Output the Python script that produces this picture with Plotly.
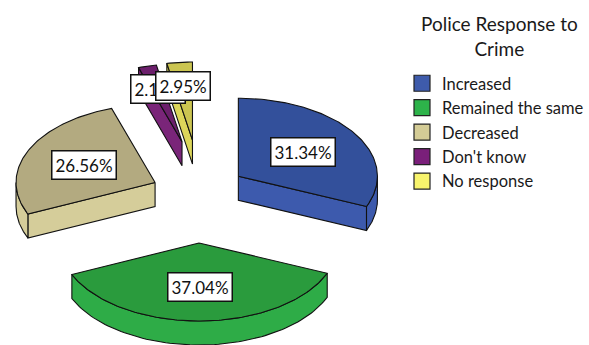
import numpy as np
import plotly.graph_objects as go

# --- data -------------------------------------------------------------
categories = ["Increased", "Remained the same", "Decreased", "Don't know", "No response"]
percents = [31.34, 37.04, 26.56, 2.11, 2.95]
label_texts = ["31.34%", "37.04%", "26.56%", "2.11%", "2.95%"]
legend_title = "Police Response to<br>Crime"

# --- styling ----------------------------------------------------------
top_colors = ["#33509b", "#2a9b3d", "#b3aa80", "#6c1f6c", "#cbc551"]
side_colors = ["#3d5aad", "#2eac47", "#d5cd9a", "#7a2579", "#dcd65a"]
key_colors = ["#3e5bab", "#2db34a", "#d4cc96", "#7a1f7a", "#f8f46c"]
FONT = "Lato"

# tilted pie geometry, in pixel units of the plotting area
CX, CY = 200, 200          # pie centre
RX, RY = 140, 78           # ellipse radii of the tilted disc
DEPTH = 24                 # thickness of the disc
EX, EY = 48, 43            # explode distance (horizontal / vertical)
SMALL_PULL = 1.4           # extra explode for thin slices
LABEL_R = 0.56             # label radius (fraction of RX/RY) for big slices
LABEL_R_SMALL = 0.70       # label radius for thin slices

fig = go.Figure()


def face(xs, ys, fill):
    fig.add_trace(go.Scatter(
        x=xs, y=ys, mode="lines", fill="toself", fillcolor=fill,
        line=dict(color="#111111", width=1.1), hoverinfo="skip",
        showlegend=False))


total = float(sum(percents))
bounds = np.concatenate([[0.0], np.cumsum(percents) / total * 2 * np.pi])

slices = []
for i, pct in enumerate(percents):
    a0, a1 = bounds[i], bounds[i + 1]
    mid = 0.5 * (a0 + a1)
    small = pct < 5
    pull = SMALL_PULL if small else 1.0
    ox = CX + pull * EX * np.sin(mid)
    oy = CY - pull * EY * np.cos(mid)
    slices.append(dict(i=i, a0=a0, a1=a1, mid=mid, ox=ox, oy=oy, small=small))

# back-to-front drawing order
for s in sorted(slices, key=lambda d: d["oy"]):
    i, a0, a1, ox, oy = s["i"], s["a0"], s["a1"], s["ox"], s["oy"]

    def px(t, r=1.0):
        return ox + RX * r * np.sin(t)

    def py(t, r=1.0):
        return oy - RY * r * np.cos(t)

    # radial cut faces that face the viewer
    for ang, visible in ((a0, np.sin(a0) < -1e-6), (a1, np.sin(a1) > 1e-6)):
        if visible:
            ex, ey = px(ang), py(ang)
            face([ox, ex, ex, ox, ox], [oy, ey, ey + DEPTH, oy + DEPTH, oy],
                 side_colors[i])

    # outer rim, front half only
    lo, hi = max(a0, np.pi / 2), min(a1, 3 * np.pi / 2)
    if hi > lo:
        t = np.linspace(lo, hi, 80)
        xs = np.concatenate([px(t), px(t[::-1])])
        ys = np.concatenate([py(t), py(t[::-1]) + DEPTH])
        face(list(xs) + [xs[0]], list(ys) + [ys[0]], side_colors[i])

    # top face
    t = np.linspace(a0, a1, max(8, int((a1 - a0) * 60)))
    xs = [ox] + list(px(t)) + [ox]
    ys = [oy] + list(py(t)) + [oy]
    face(xs, ys, top_colors[i])

# value labels
for s in slices:
    r = LABEL_R_SMALL if s["small"] else LABEL_R
    lx = s["ox"] + RX * r * np.sin(s["mid"])
    ly = s["oy"] - RY * r * np.cos(s["mid"])
    fig.add_annotation(
        x=lx, y=ly, xref="x", yref="y", text=label_texts[s["i"]],
        showarrow=False, bgcolor="white", bordercolor="#111111",
        borderwidth=1.5, borderpad=3,
        font=dict(family=FONT, size=17, color="#111111"))

# legend heading, centred over the legend
fig.add_annotation(
    x=503 / 589, y=1 - 36 / 345, xref="paper", yref="paper",
    text=legend_title, showarrow=False, align="center",
    xanchor="center", yanchor="middle",
    font=dict(family=FONT, size=19, color="#1a1a1a"))

# legend entries
for cat, col in zip(categories, key_colors):
    fig.add_trace(go.Scatter(
        x=[None], y=[None], mode="markers", name=cat, legendgroup=cat,
        marker=dict(symbol="square", size=16, color=col,
                    line=dict(color="#222222", width=1.2))))

fig.update_layout(
    width=589, height=345,
    margin=dict(l=0, r=0, t=0, b=0),
    paper_bgcolor="white", plot_bgcolor="white",
    xaxis=dict(range=[0, 589], visible=False, fixedrange=True),
    yaxis=dict(range=[345, 0], visible=False, fixedrange=True),
    font=dict(family=FONT, color="#1a1a1a"),
    legend=dict(
        x=405 / 589, y=1 - 66 / 345, xanchor="left", yanchor="top",
        font=dict(family=FONT, size=16.5, color="#1a1a1a"),
        traceorder="grouped", tracegroupgap=0,
        bgcolor="rgba(0,0,0,0)"),
)

fig.write_html("out.html")
